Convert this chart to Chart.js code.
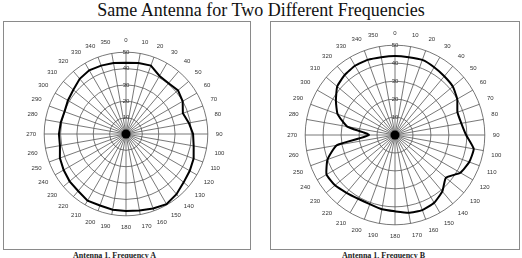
<!DOCTYPE html>
<html>
<head>
<meta charset="utf-8">
<script src="https://cdn.jsdelivr.net/npm/chart.js@4/dist/chart.umd.min.js"></script>
<style>
  body { margin: 0; background: #fff; width: 522px; height: 258px; overflow: hidden; position: relative; }
  #title { position: absolute; left: 0; width: 522px; top: 0; text-align: center;
    font-family: "Liberation Serif", serif; font-size: 18px; color: #111; line-height: 20px; }
  .box { position: absolute; border: 1px solid #8a8a8a; background: #fff; }
  .box canvas { position: absolute; }
  .cap { position: absolute; top: 251px; font-family: "Liberation Serif", serif; font-size: 8px;
    font-weight: bold; color: #222; line-height: 10px; white-space: nowrap; }
</style>
</head>
<body>
<div id="title">Same Antenna for Two Different Frequencies</div>
<div class="box" style="left:3px; top:21px; width:246px; height:227px;">
  <canvas id="chartA" width="240" height="222" style="left:2px; top:1px;"></canvas>
</div>
<div class="box" style="left:270px; top:21px; width:248px; height:227px;">
  <canvas id="chartB" width="240" height="224" style="left:4px; top:1px;"></canvas>
</div>
<div class="cap" style="left:73px;">Antenna 1, Frequency A</div>
<div class="cap" style="left:342px;">Antenna 1, Frequency B</div>
<script>
  // bearings, every 10 degrees clockwise from top
  var angles = ['0', '10', '20', '30', '40', '50', '60', '70', '80', '90', '100', '110',
    '120', '130', '140', '150', '160', '170', '180', '190', '200', '210', '220', '230',
    '240', '250', '260', '270', '280', '290', '300', '310', '320', '330', '340', '350'];

  // radial ticks
  var rTicks = [0, 10, 20, 30, 40, 50];

  // frequency A pattern
  var freqA = [43.5, 44, 44.5, 41, 40.5, 41.5, 40, 37, 39, 41, 42, 44,
    45, 46, 48, 49.5, 48.5, 47.5, 47, 47, 46.5, 47, 45.5, 45,
    44, 43, 41, 41, 40.5, 40, 41, 42, 44, 45, 44.5, 44];

  // frequency B pattern
  var freqB = [44, 44, 44.5, 43.6, 42.7, 42, 40, 37, 37.5, 39.6, 44.5, 44,
    42, 37, 41, 43.6, 44.5, 44, 42.5, 42, 41, 41, 42, 43.6,
    44, 40, 33, 14.5, 27, 34, 38, 42, 43.6, 44.5, 44.5, 44];

  var centerDot = {
    id: 'centerDot',
    afterDatasetsDraw: function (chart) {
      var s = chart.scales.r;
      var ctx = chart.ctx;
      ctx.save();
      ctx.fillStyle = '#000';
      ctx.beginPath();
      ctx.arc(s.xCenter, s.yCenter, 4.5, 0, Math.PI * 2);
      ctx.fill();
      ctx.restore();
    }
  };

  function makeChart(id, values, pad, tension) {
    return new Chart(document.getElementById(id), {
      type: 'radar',
      data: {
        labels: angles,
        datasets: [{
          data: values,
          borderColor: '#000',
          borderWidth: 2,
          fill: false,
          pointRadius: 0,
          tension: tension
        }]
      },
      options: {
        responsive: false,
        animation: false,
        layout: { padding: pad },
        plugins: { legend: { display: false }, tooltip: { enabled: false } },
        scales: {
          r: {
            min: rTicks[0],
            max: rTicks[rTicks.length - 1],
            afterBuildTicks: function (scale) {
              scale.ticks = rTicks.map(function (v) { return {value: v}; });
            },
            angleLines: { color: '#555', lineWidth: 0.8 },
            grid: { circular: true, color: '#555', lineWidth: 0.8 },
            pointLabels: {
              font: { family: 'Arial, "Liberation Sans", sans-serif', size: 6 },
              color: '#333',
              padding: 3
            },
            ticks: {
              showLabelBackdrop: false,
              font: { size: 6 },
              color: '#333',
              z: 1
            }
          }
        }
      },
      plugins: [centerDot]
    });
  }

  makeChart('chartA', freqA, 14, 0);
  makeChart('chartB', freqB, 7, 0.15);
</script>
</body>
</html>
